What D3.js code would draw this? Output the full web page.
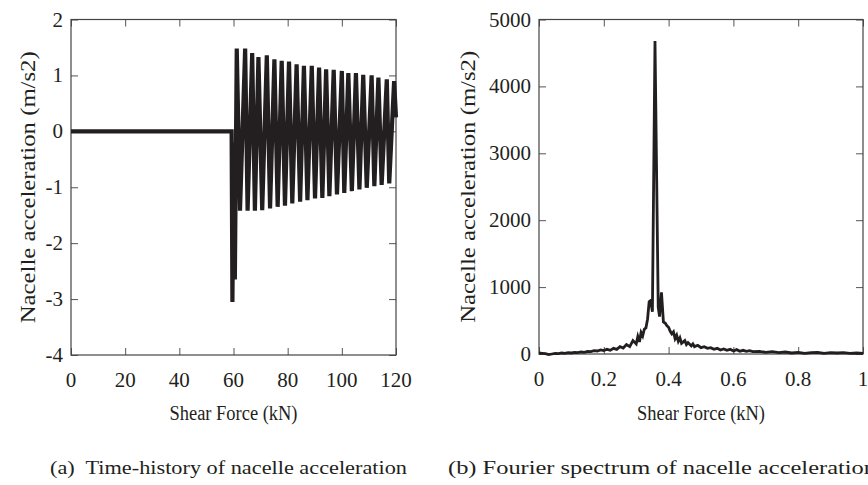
<!DOCTYPE html>
<html>
<head>
<meta charset="utf-8">
<script src="https://cdn.jsdelivr.net/npm/d3@7"></script>
<style>
  body { margin: 0; background: #fff; }
</style>
</head>
<body>
<div id="chart"></div>
<script>
// (a) time history: flat, impact dip, then alternating peaks / troughs
var histT = [0, 59.3, 59.6, 60.1, 60.5,
  61.2, 62.4, 64.3, 65.2, 66.9, 67.9, 69.2, 70.6, 72.3, 73.5, 75.1, 76.3, 77.8, 79.0,
  80.5, 81.7, 83.3, 84.6, 86.0, 87.3, 88.9, 90.1, 91.6, 92.8, 94.2, 95.4, 97.0, 98.2,
  100.0, 100.9, 102.4, 103.7, 105.2, 106.5, 107.9, 109.2, 111.0, 112.0, 113.5, 114.7,
  116.6, 117.5, 119.3, 120];
var histA = [0, 0, -3.05, -0.2, -2.65,
  1.48, -1.42, 1.48, -1.42, 1.40, -1.42, 1.33, -1.41, 1.36, -1.38, 1.29, -1.35, 1.26, -1.33,
  1.25, -1.29, 1.20, -1.26, 1.17, -1.23, 1.17, -1.20, 1.14, -1.19, 1.11, -1.16, 1.10, -1.13,
  1.08, -1.10, 1.04, -1.07, 1.04, -1.04, 1.01, -1.01, 1.00, -0.98, 0.96, -0.96,
  0.93, -0.93, 0.90, 0.25];

// (b) Fourier spectrum
var specF = [0, 0.01, 0.02, 0.03, 0.04, 0.05, 0.06, 0.07, 0.08, 0.09, 0.10, 0.11, 0.12, 0.13,
  0.14, 0.15, 0.16, 0.17, 0.18, 0.19, 0.20, 0.21, 0.22, 0.23, 0.24, 0.25, 0.26, 0.27, 0.28,
  0.29, 0.30, 0.305, 0.31, 0.315, 0.32, 0.325, 0.33, 0.335, 0.34, 0.345, 0.35, 0.358, 0.368,
  0.372, 0.378, 0.384, 0.39, 0.395, 0.40, 0.405, 0.41, 0.415, 0.42, 0.425, 0.43, 0.435, 0.44,
  0.45, 0.455, 0.46, 0.47, 0.475, 0.48, 0.49, 0.50, 0.51, 0.52, 0.53, 0.54, 0.55, 0.56, 0.57,
  0.58, 0.59, 0.60, 0.61, 0.62, 0.63, 0.64, 0.65, 0.66, 0.68, 0.70, 0.72, 0.74, 0.76, 0.78,
  0.80, 0.82, 0.84, 0.86, 0.88, 0.90, 0.92, 0.94, 0.96, 0.98, 1.00];
var specA = [15, 10, 5, -10, 0, 10, 5, 15, 10, 20, 15, 25, 20, 30,
  25, 40, 35, 50, 45, 60, 50, 70, 55, 85, 70, 110, 90, 140, 110,
  200, 150, 260, 180, 320, 270, 370, 390, 520, 780, 800, 630, 4680, 700,
  560, 920, 480, 460, 420, 400, 340, 300, 330, 230, 280, 190, 240, 160,
  200, 140, 170, 120, 150, 110, 130, 95, 110, 85, 95, 70, 85, 60, 75,
  55, 70, 45, 65, 40, 55, 40, 50, 35, 40, 25, 35, 20, 30, 15,
  25, 10, 20, 25, 10, 20, 15, 20, 10, 15, 10];

var histTicksX = [0, 20, 40, 60, 80, 100, 120];
var histTicksY = [-4, -3, -2, -1, 0, 1, 2];
var specTicksX = [0, 0.2, 0.4, 0.6, 0.8, 1];
var specTicksY = [0, 1000, 2000, 3000, 4000, 5000];

var xLabel = "Shear Force (kN)";
var yLabel = "Nacelle acceleration (m/s2)";
var captions = ["(a)\u00a0 Time-history of nacelle acceleration", "(b) Fourier spectrum of nacelle acceleration"];

var serif = "Liberation Serif";
var ink = "#231f20";

var svg = d3.select("#chart")
  .append("svg")
    .attr("width", 868)
    .attr("height", 485);

function label(sel, size) {
  return sel.attr("font-family", serif).attr("font-size", size).attr("fill", ink);
}

function panel(opt) {
  var x = d3.scaleLinear().domain(opt.xDomain).range([opt.left, opt.right]);
  var y = d3.scaleLinear().domain(opt.yDomain).range([opt.bottom, opt.top]);
  var g = svg.append("g");

  // inward ticks on all four sides
  var tickLen = 7;
  g.append("g").attr("transform", "translate(0," + opt.bottom + ")")
    .call(d3.axisBottom(x).tickValues(opt.xTicks).tickSizeInner(-tickLen).tickSizeOuter(0).tickFormat(""));
  g.append("g").attr("transform", "translate(0," + opt.top + ")")
    .call(d3.axisTop(x).tickValues(opt.xTicks).tickSizeInner(-tickLen).tickSizeOuter(0).tickFormat(""));
  g.append("g").attr("transform", "translate(" + opt.left + ",0)")
    .call(d3.axisLeft(y).tickValues(opt.yTicks).tickSizeInner(-tickLen).tickSizeOuter(0).tickFormat(""));
  g.append("g").attr("transform", "translate(" + opt.right + ",0)")
    .call(d3.axisRight(y).tickValues(opt.yTicks).tickSizeInner(-tickLen).tickSizeOuter(0).tickFormat(""));
  g.selectAll(".domain").remove();
  g.selectAll(".tick text").remove();
  g.selectAll(".tick line").attr("stroke", "#555").attr("stroke-width", 1);

  g.append("rect")
    .attr("x", opt.left).attr("y", opt.top)
    .attr("width", opt.right - opt.left).attr("height", opt.bottom - opt.top)
    .attr("fill", "none").attr("stroke", "#444").attr("stroke-width", 1.2);

  var pts = opt.xs.map((v, i) => [v, opt.ys[i]]);
  g.append("path")
    .datum(pts)
    .attr("fill", "none")
    .attr("stroke", ink)
    .attr("stroke-width", opt.lw)
    .attr("stroke-linejoin", "miter")
    .attr("d", d3.line().x(d => x(d[0])).y(d => y(d[1])));

  // texts go straight on the svg
  opt.xTicks.forEach(function(d) {
    svg.append("text")
      .attr("x", x(d)).attr("y", opt.bottom + 32)
      .attr("text-anchor", "middle")
      .call(label, 21)
      .text(d);
  });
  opt.yTicks.forEach(function(d) {
    svg.append("text")
      .attr("x", opt.left - 8).attr("y", d => y(d) + 7)
      .attr("y", y(d) + 7)
      .attr("text-anchor", "end")
      .call(label, 21)
      .text(d);
  });

  svg.append("text")
    .attr("x", (opt.left + opt.right) / 2).attr("y", 420)
    .attr("text-anchor", "middle")
    .attr("textLength", 128).attr("lengthAdjust", "spacingAndGlyphs")
    .call(label, 20)
    .text(xLabel);
  svg.append("text")
    .attr("transform", "translate(" + opt.yLabelX + "," + ((opt.top + opt.bottom) / 2) + ") rotate(-90)")
    .attr("text-anchor", "middle")
    .attr("textLength", 272).attr("lengthAdjust", "spacingAndGlyphs")
    .call(label, 22)
    .text(yLabel);

  svg.append("text")
    .attr("x", opt.capX).attr("y", 474)
    .attr("textLength", opt.capLen).attr("lengthAdjust", "spacingAndGlyphs")
    .call(label, 19)
    .text(opt.caption);
}

panel({left: 71, right: 396, top: 19.5, bottom: 355,
  xDomain: [0, 120], yDomain: [-4, 2], xTicks: histTicksX, yTicks: histTicksY,
  xs: histT, ys: histA, lw: 4.2, yLabelX: 35, capX: 50, capLen: 357, caption: captions[0]});

panel({left: 539, right: 863, top: 19.5, bottom: 354,
  xDomain: [0, 1], yDomain: [0, 5000], xTicks: specTicksX, yTicks: specTicksY,
  xs: specF, ys: specA, lw: 2.8, yLabelX: 475, capX: 448, capLen: 428, caption: captions[1]});
</script>
</body>
</html>
